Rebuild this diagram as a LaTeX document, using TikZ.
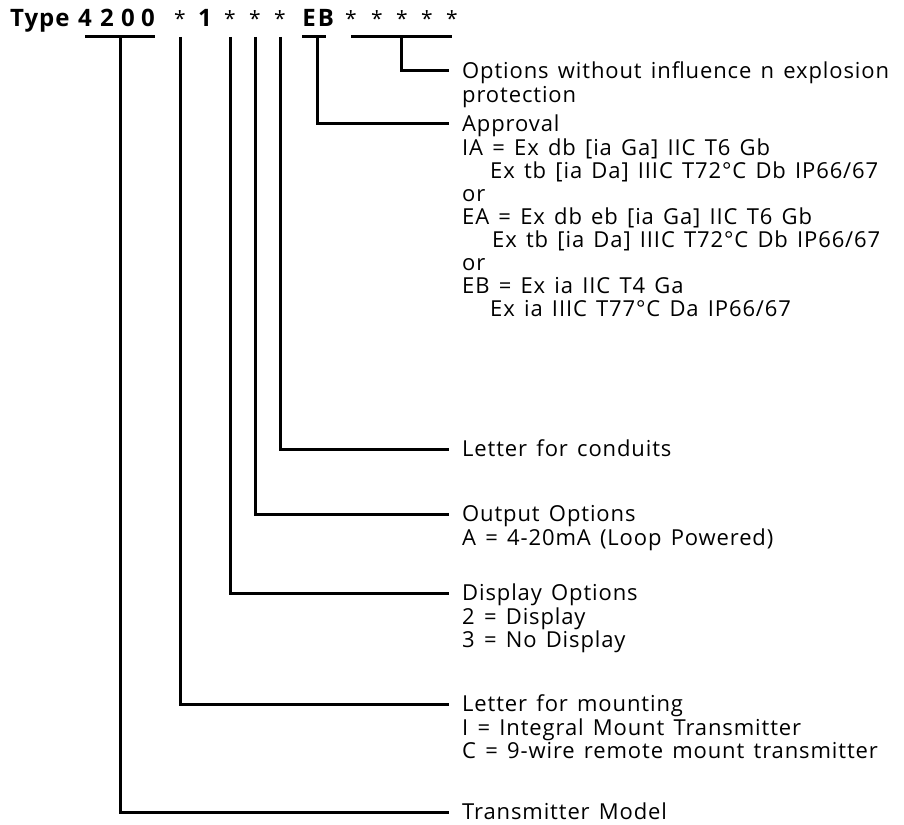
\documentclass[tikz,border=0pt]{standalone}
\usepackage{fontspec}
\setmainfont{Open Sans}[LetterSpace=4,WordSpace=1.4]
\usetikzlibrary{positioning,calc}
\newcommand{\lnstrut}{\rule{0pt}{19.35pt}}
\setlength{\lineskiplimit}{-20pt}

\begin{document}
\begin{tikzpicture}[
  x=1pt, y=-1pt,
  code/.style={font=\fontsize{24}{24}\selectfont\bfseries, inner sep=0pt, anchor=base},
  star/.style={font=\fontsize{21}{24}\selectfont, inner sep=0pt, anchor=base},
  head/.style={
    font=\fontsize{22}{23}\selectfont,
    inner xsep=13pt, inner ysep=0pt,
    text height=19.35pt, text depth=3.65pt,
    anchor=west
  },
  detail/.style={
    font=\fontsize{22}{23}\selectfont,
    inner xsep=13pt, inner ysep=0pt,
    align=left, anchor=north west
  },
  lead/.style={line width=3pt}
]
\useasboundingbox (0,0) rectangle (904,824);

% type code
\node[code, anchor=base west] (type) at (10,27) {Type};
\node[code] (c1) at (85,27) {4};
\node[code] (c2) at (107,27) {2};
\node[code] (c3) at (128,27) {0};
\node[code] (c4) at (148,27) {0};
\node[star] (s1) at (180,27) {*};
\node[code] (c5) at (205,27) {1};
\node[star] (s2) at (230,27) {*};
\node[star] (s3) at (255,27) {*};
\node[star] (s4) at (280,27) {*};
\node[code] (e) at (309,27) {E};
\node[code] (b) at (326,27) {B};
\foreach \i/\x in {1/351,2/377,3/402,4/427,5/452}
  \node[star] (o\i) at (\x,27) {*};

% explanations
\node[head] (opt) at (449,71) {Options without influence n explosion};
\node[detail] (optd) at (opt.south west) {\lnstrut protection};
\node[head] (appr) at (449,124) {Approval};
\node[detail] (apprd) at (appr.south west) {%
  \lnstrut IA = Ex db [ia Ga] IIC T6 Gb\\
  \hspace{28pt}Ex tb [ia Da] IIIC T72°C Db IP66/67\\
  or\\
  EA = Ex db eb [ia Ga] IIC T6 Gb\\
  \hspace{30pt}Ex tb [ia Da] IIIC T72°C Db IP66/67\\
  or\\
  EB = Ex ia IIC T4 Ga\\
  \hspace{28pt}Ex ia IIIC T77°C Da IP66/67};
\node[head] (cond) at (449,449) {Letter for conduits};
\node[head] (out) at (449,514) {Output Options};
\node[detail] (outd) at (out.south west) {\lnstrut A = 4-20mA (Loop Powered)};
\node[head] (disp) at (449,593) {Display Options};
\node[detail] (dispd) at (disp.south west) {\lnstrut 2 = Display\\3 = No Display};
\node[head] (mount) at (449,704) {Letter for mounting};
\node[detail] (mountd) at (mount.south west) {%
  \lnstrut I = Integral Mount Transmitter\\
  C = 9-wire remote mount transmitter};
\node[head] (model) at (449,812) {Transmitter Model};

% brackets under the code
\coordinate (k1) at ($(c1.base)!0.5!(c4.base east)+(0,10)$);
\coordinate (k2) at ($(e.base)!0.5!(b.base)+(0,10)$);
\coordinate (k3) at ($(o1.base)!0.5!(o5.base)+(0,10)$);
\draw[lead] ([yshift=-10pt]c1.base) -- ([yshift=-10pt]c4.base east);
\draw[lead] ([yshift=-10pt]e.base west) -- ([yshift=-10pt]b.base);
\draw[lead] ([yshift=-10pt]o1.base) -- ([yshift=-10pt]o5.base);

% leaders
\draw[lead] (k3) |- (opt.west);
\draw[lead] (k2) |- (appr.west);
\draw[lead] ([yshift=-10pt]s4.base) |- (cond.west);
\draw[lead] ([yshift=-10pt]s3.base) |- (out.west);
\draw[lead] ([yshift=-10pt]s2.base) |- (disp.west);
\draw[lead] ([yshift=-10pt]s1.base) |- (mount.west);
\draw[lead] (k1) |- (model.west);
\end{tikzpicture}
\end{document}
